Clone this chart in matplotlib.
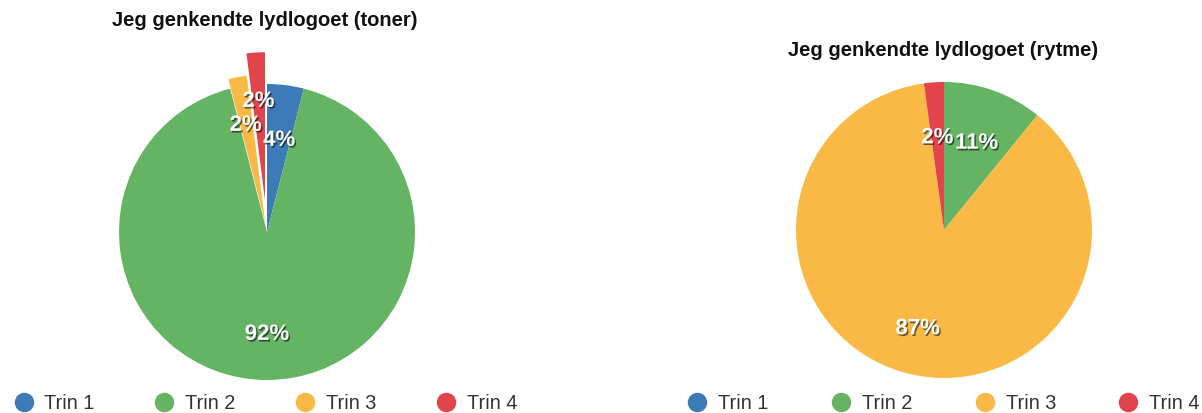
import numpy as np
import matplotlib
matplotlib.use('Agg')
import matplotlib.pyplot as plt
from matplotlib import patheffects as pe
from matplotlib import transforms as mtransforms
from matplotlib.lines import Line2D

categories = ['Trin 1', 'Trin 2', 'Trin 3', 'Trin 4']
toner_values = [2, 46, 1, 1]
rytme_values = [0, 5, 40, 1]
toner_title = 'Jeg genkendte lydlogoet (toner)'
rytme_title = 'Jeg genkendte lydlogoet (rytme)'
colors = ['#3d7ab8', '#64b464', '#f9b944', '#e2444c']

plt.rcParams['font.family'] = ['Liberation Sans', 'DejaVu Sans']

W, H = 1202, 414
fig = plt.figure(figsize=(W / 100, H / 100), dpi=100)

R = 148
span = 1.4


def fmt(p):
    return f'{round(p)}%' if p >= 0.5 else ''


def add_pie(cx, cy, values, explode):
    size = 2 * R * span
    ax = fig.add_axes([(cx - R * span) / W, (H - cy - R * span) / H, size / W, size / H])
    txt_fx = [pe.SimplePatchShadow(offset=(1, -1.2), shadow_rgbFace='black', alpha=0.55), pe.Normal()]
    wedges, texts, autotexts = ax.pie(
        values, colors=colors, startangle=90, counterclock=False, radius=1,
        explode=explode, autopct=fmt, pctdistance=0.658,
        wedgeprops=dict(linewidth=0),
        shadow={'ox': 2.2, 'oy': -2.0, 'facecolor': '#222222', 'edgecolor': 'none', 'alpha': 0.45},
        textprops=dict(color='white', fontsize=16, fontweight='bold', path_effects=txt_fx))
    shift = mtransforms.offset_copy(ax.transData, fig=fig, x=0, y=-3.6, units='points')
    for w, t, e in zip(wedges, autotexts, explode):
        if e > 0:
            ang = np.deg2rad((w.theta1 + w.theta2) / 2)
            x, y = t.get_position()
            t.set_position((x + 0.045 * np.cos(ang), y + 0.045 * np.sin(ang)))
        t.set_transform(shift)
    ax.set_xlim(-span, span)
    ax.set_ylim(-span, span)
    ax.set_aspect('equal')
    ax.axis('off')
    return ax


add_pie(267, 233, toner_values, [0, 0, 0.065, 0.215])
add_pie(944, 231, rytme_values, [0, 0, 0, 0])

fig.text(265 / W, 1 - 20 / H, toner_title, ha='center', va='center', fontsize=14.5, fontweight='bold', color='#111111')
fig.text(943 / W, 1 - 50 / H, rytme_title, ha='center', va='center', fontsize=14.5, fontweight='bold', color='#111111')

handles = [Line2D([], [], marker='o', linestyle='none', markersize=13,
                  markerfacecolor=c, markeredgecolor=c) for c in colors]
for x0, cs in ((13.5, 2.97), (687, 3.12)):
    fig.legend(handles, categories, loc='center left', bbox_to_anchor=(x0 / W, 1 - 404 / H),
               ncol=4, frameon=False, handlelength=1, handletextpad=0.55, columnspacing=cs,
               borderaxespad=0, borderpad=0, fontsize=14.4, labelcolor='#333333')

fig.savefig('out.png', dpi=100)
